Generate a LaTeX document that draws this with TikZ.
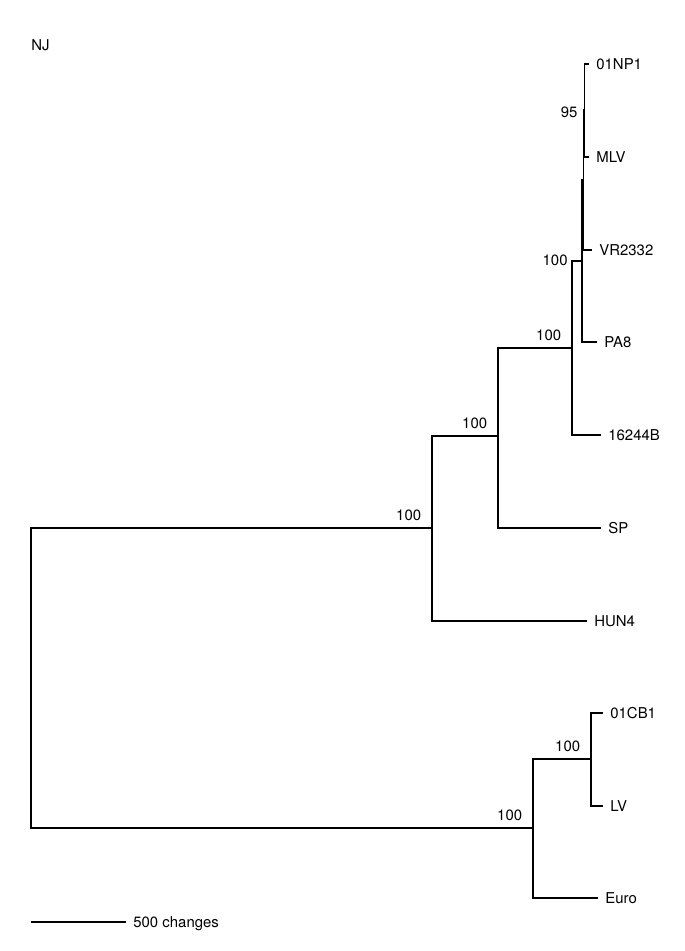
\documentclass[tikz,border=0pt]{standalone}
\usepackage{fontspec}
\setmainfont{TeX Gyre Heros}
\usetikzlibrary{positioning}
\tikzset{
  tree branch/.style={
    draw=black, line width=0.7pt
  },
  tree taxon/.style={
    anchor=west, inner sep=0pt, text depth=0pt,
    font=\fontsize{8.5}{10}\selectfont
  },
  tree boot/.style={
    anchor=base east, inner sep=0pt,
    font=\fontsize{8.5}{10}\selectfont,
    xshift=-6pt, yshift=4.5pt
  }
}

\begin{document}
\begin{tikzpicture}[x=0.02cm, y=-0.02cm]
  \useasboundingbox (0,0) rectangle (685,951);

  % internal nodes
  \coordinate (nRoot) at (31,678);
  \coordinate (nA) at (432,528);
  \coordinate (nB) at (498,436);
  \coordinate (nC) at (572,348);
  \coordinate (nD) at (582,261);
  \coordinate (nE) at (583.2,180);
  \coordinate (nF) at (584.4,110);
  \coordinate (nG) at (533,828);
  \coordinate (nH) at (591,759);

  % tips
  \coordinate (t01NP1) at (589,64);
  \coordinate (tMLV) at (589,157);
  \coordinate (tVR2332) at (592,250);
  \coordinate (tPA8) at (597,342);
  \coordinate (t16244B) at (601,435);
  \coordinate (tSP) at (601,528);
  \coordinate (tHUN4) at (587,621);
  \coordinate (t01CB1) at (603,713);
  \coordinate (tLV) at (603,806);
  \coordinate (tEuro) at (598,898);

  % branches
  \draw [tree branch] (nRoot) |- (nA);
  \draw [tree branch] (nRoot) |- (nG);
  \draw [tree branch] (nA) |- (nB);
  \draw [tree branch] (nA) |- (tHUN4);
  \draw [tree branch] (nB) |- (nC);
  \draw [tree branch] (nB) |- (tSP);
  \draw [tree branch] (nC) |- (nD);
  \draw [tree branch] (nC) |- (t16244B);
  \draw [tree branch] (nD) |- (nE);
  \draw [tree branch] (nD) |- (tPA8);
  \draw [tree branch] (nE) |- (nF);
  \draw [tree branch] (nE) |- (tVR2332);
  \draw [tree branch] (nF) |- (t01NP1);
  \draw [tree branch] (nF) |- (tMLV);
  \draw [tree branch] (nG) |- (nH);
  \draw [tree branch] (nG) |- (tEuro);
  \draw [tree branch] (nH) |- (t01CB1);
  \draw [tree branch] (nH) |- (tLV);

  % taxa
  \node (l01NP1) [tree taxon, right=4pt of t01NP1] {01NP1};
  \node (lMLV) [tree taxon, right=4pt of tMLV] {MLV};
  \node (lVR2332) [tree taxon, right=4pt of tVR2332] {VR2332};
  \node (lPA8) [tree taxon, right=4pt of tPA8] {PA8};
  \node (l16244B) [tree taxon, right=4pt of t16244B] {16244B};
  \node (lSP) [tree taxon, right=4pt of tSP] {SP};
  \node (lHUN4) [tree taxon, right=4pt of tHUN4] {HUN4};
  \node (l01CB1) [tree taxon, right=4pt of t01CB1] {01CB1};
  \node (lLV) [tree taxon, right=4pt of tLV] {LV};
  \node (lEuro) [tree taxon, right=4pt of tEuro] {Euro};

  % bootstrap values
  \node (bA) [tree boot] at (nA) {100};
  \node (bB) [tree boot] at (nB) {100};
  \node (bC) [tree boot] at (nC) {100};
  \node (bD) [tree boot, xshift=-2pt, yshift=-7.3pt] at (nD) {100};
  \node (bF) [tree boot, xshift=2.3pt, yshift=-8.5pt] at (nF) {95};
  \node (bG) [tree boot] at (nG) {100};
  \node (bH) [tree boot] at (nH) {100};

  % method and scale
  \node (lNJ) [tree taxon] at (31,45) {NJ};
  \coordinate (sLeft) at (31,922);
  \coordinate (sRight) at (126,922);
  \draw [tree branch] (sLeft) -- (sRight);
  \node (lScale) [tree taxon, right=4pt of sRight] {500 changes};
\end{tikzpicture}
\end{document}
